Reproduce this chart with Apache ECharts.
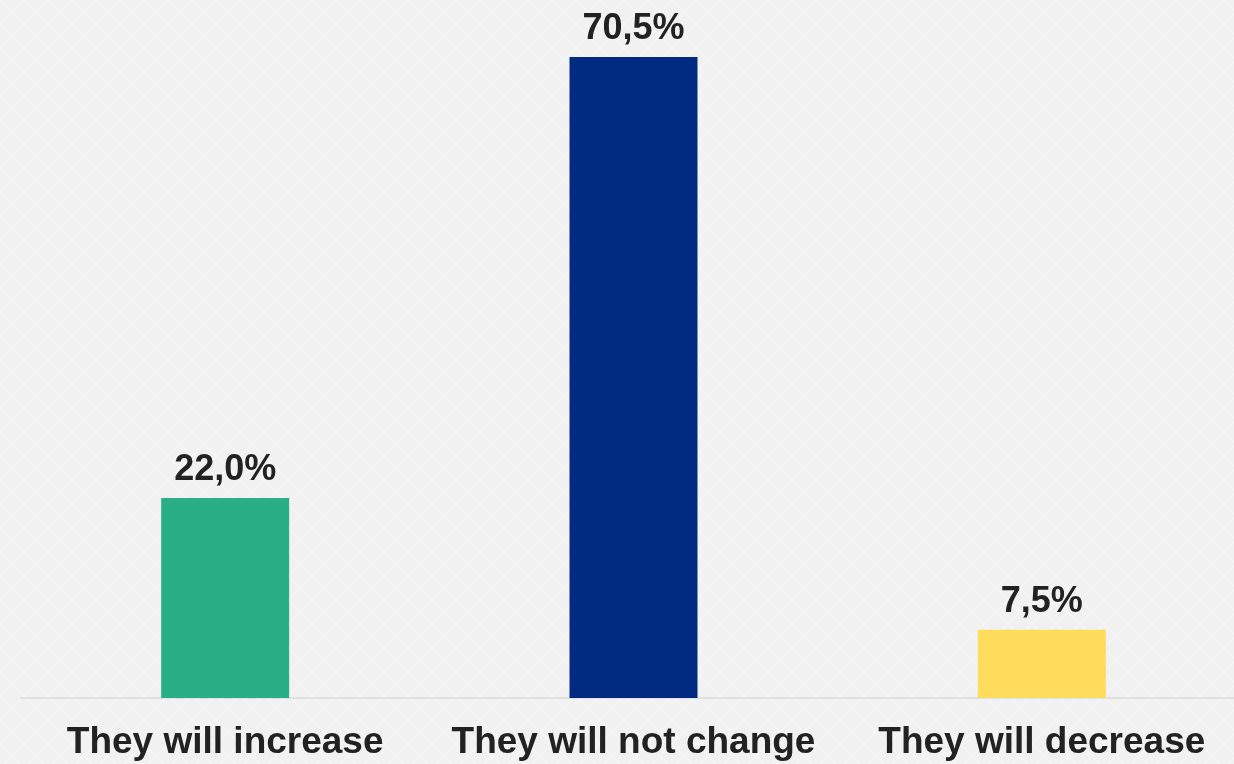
<!DOCTYPE html>
<html>
<head>
<meta charset="utf-8">
<script src="https://cdn.jsdelivr.net/npm/echarts@6/dist/echarts.min.js"></script>
<style>
  html, body { margin: 0; padding: 0; background: #f2f2f2; overflow: hidden; }
  #chart { width: 1246px; height: 764px; }
</style>
</head>
<body>
<div id="chart"></div>
<script>
// Expected change answers and their share of respondents (%)
const categories = ['They will increase', 'They will not change', 'They will decrease'];
const shares = [22.0, 70.5, 7.5];
const barColors = ['#2aae86', '#002b80', '#ffdc5c'];

// Soft diamond texture for the background
function makeTexture() {
  const c = document.createElement('canvas');
  c.width = 24; c.height = 24;
  const g = c.getContext('2d');
  g.fillStyle = '#f1f1f1';
  g.fillRect(0, 0, 24, 24);
  g.strokeStyle = 'rgba(255,255,255,0.3)';
  g.lineWidth = 2;
  g.beginPath();
  g.moveTo(0, 0); g.lineTo(24, 24);
  g.moveTo(24, 0); g.lineTo(0, 24);
  g.stroke();
  return c;
}

const chart = echarts.init(document.getElementById('chart'));
chart.setOption({
  backgroundColor: { image: makeTexture(), repeat: 'repeat' },
  animation: false,
  grid: { left: 21, right: 0, top: 16, bottom: 66 },
  xAxis: {
    type: 'category',
    data: categories,
    axisLine: { lineStyle: { color: '#e0e0e0', width: 2 } },
    axisTick: { show: false },
    axisLabel: {
      interval: 0,
      margin: 26,
      color: '#222222',
      fontFamily: 'Liberation Sans, Arial, sans-serif',
      fontWeight: 'bold',
      fontSize: 37
    }
  },
  yAxis: {
    type: 'value',
    min: 0,
    max: 75,
    show: false,
    splitLine: { show: false }
  },
  series: [{
    type: 'bar',
    barWidth: 128,
    data: shares.map((v, i) => ({ value: v, itemStyle: { color: barColors[i] } })),
    label: {
      show: true,
      position: 'top',
      distance: 10,
      color: '#222222',
      fontFamily: 'Liberation Sans, Arial, sans-serif',
      fontWeight: 'bold',
      fontSize: 36,
      formatter: p => p.value.toFixed(1).replace('.', ',') + '%'
    }
  }]
});
</script>
</body>
</html>
